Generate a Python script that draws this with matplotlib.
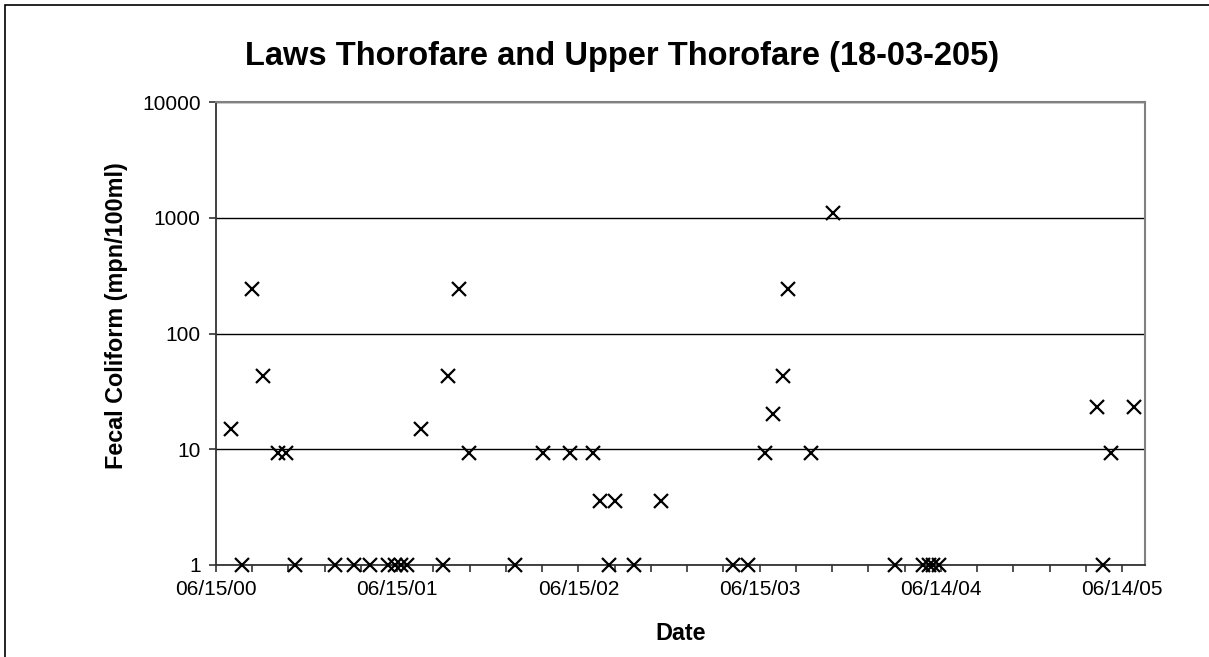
import numpy as np
import pandas as pd
import matplotlib
matplotlib.use("Agg")
import matplotlib.pyplot as plt
import matplotlib.dates as mdates
from matplotlib.ticker import FixedLocator, NullFormatter

plt.rcParams['font.family'] = ['Liberation Sans', 'DejaVu Sans']

# sample dates and fecal coliform results (mpn/100ml)
sample_dates = [
    "2000-07-15", "2000-08-06", "2000-08-27", "2000-09-18", "2000-10-18", "2000-11-03", "2000-11-21",
    "2001-02-10", "2001-03-20", "2001-04-21", "2001-05-27", "2001-06-11", "2001-06-23", "2001-07-05",
    "2001-08-02", "2001-09-15", "2001-09-25", "2001-10-17", "2001-11-07",
    "2002-02-07", "2002-04-05", "2002-05-29", "2002-07-14", "2002-07-28", "2002-08-16", "2002-08-28",
    "2002-10-05", "2002-11-28",
    "2003-04-22", "2003-05-23", "2003-06-26", "2003-07-12", "2003-08-01", "2003-08-11", "2003-09-27",
    "2003-11-10",
    "2004-03-14", "2004-05-09", "2004-05-21", "2004-05-29", "2004-06-10",
    "2005-04-25", "2005-05-07", "2005-05-23", "2005-07-08",
]
fecal_coliform = [
    15, 1, 240, 43, 9.3, 9.3, 1,
    1, 1, 1, 1, 1, 1, 1,
    15, 1, 43, 240, 9.3,
    1, 9.3, 9.3, 9.3, 3.6, 1, 3.6,
    1, 3.6,
    1, 1, 9.3, 20, 43, 240, 9.3,
    1100,
    1, 1, 1, 1, 1,
    23, 1, 9.3, 23,
]
y_ticks = [1, 10, 100, 1000, 10000]
x_start = "2000-06-15"
x_end = "2005-07-30"

dates = pd.to_datetime(sample_dates)
start = mdates.date2num(pd.Timestamp(x_start))
end = mdates.date2num(pd.Timestamp(x_end))

fig = plt.figure(figsize=(12.09, 6.57), dpi=100)
ax = fig.add_axes([216 / 1209, 1 - 565 / 657, (1145 - 216) / 1209, (565 - 102) / 657])

# outer chart frame (only the top-left corner shows in the reference crop)
fig.patches.append(plt.Rectangle((5 / 1209, -0.1), 1.2, 1 - 5 / 657 + 0.1, transform=fig.transFigure,
                                 fill=False, edgecolor='black', linewidth=1.2))

ax.set_yscale('log')
ax.set_ylim(1, 10000)
ax.set_xlim(start, end)
ax.yaxis.set_major_locator(FixedLocator(y_ticks))
ax.set_yticklabels([str(v) for v in y_ticks])
ax.yaxis.set_minor_locator(FixedLocator([]))
ax.grid(axis='y', which='major', color='black', linewidth=1.0)
ax.set_axisbelow(True)

ax.xaxis.set_major_locator(FixedLocator(np.arange(start, end, 365)))
ax.xaxis.set_minor_locator(FixedLocator(np.arange(start, end, 73)))
ax.xaxis.set_major_formatter(mdates.DateFormatter('%m/%d/%y'))
ax.xaxis.set_minor_formatter(NullFormatter())

ax.plot(dates, fecal_coliform, linestyle='none', marker='x', markersize=10.5,
        markeredgewidth=1.6, color='black', clip_on=False, zorder=5)

ax.tick_params(axis='both', which='both', direction='out', length=5, width=1.2, color='#333333',
               labelsize=15, pad=6)
for side in ['left', 'bottom']:
    ax.spines[side].set_color('#333333')
    ax.spines[side].set_linewidth(1.3)
for side in ['top', 'right']:
    ax.spines[side].set_color('#808080')
    ax.spines[side].set_linewidth(1.5)

fig.text(622 / 1209, 1 - 57 / 657, 'Laws Thorofare and Upper Thorofare (18-03-205)',
         ha='center', va='center', fontsize=23.5, fontweight='bold')
fig.text(117 / 1209, 1 - 316 / 657, 'Fecal Coliform (mpn/100ml)', rotation=90,
         ha='center', va='center', fontsize=16.8, fontweight='bold')
fig.text(681 / 1209, 1 - 634 / 657, 'Date', ha='center', va='center', fontsize=16.8, fontweight='bold')

plt.savefig("out.png", dpi=100)
